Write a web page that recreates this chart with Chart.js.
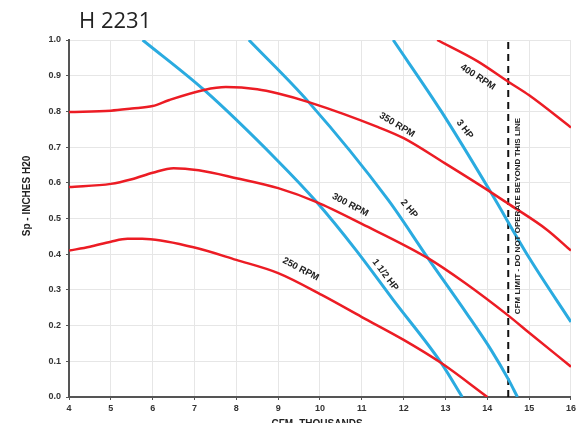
<!DOCTYPE html>
<html>
<head>
<meta charset="utf-8">
<script src="https://cdn.jsdelivr.net/npm/chart.js@4.4.1/dist/chart.umd.min.js"></script>
<style>
  body { margin: 0; background: #fff; }
  #wrap { width: 579px; height: 423px; position: relative; }
</style>
</head>
<body>
<div id="wrap"><canvas id="fanChart"></canvas></div>
<script>
// fan curves (x = CFM thousands, y = Sp inches H2O)
const rpm250X = [4, 4.5, 5, 5.4, 5.75, 6.95, 8, 9, 10.04, 11, 12, 12.9, 14];
const rpm250Y = [0.41, 0.421, 0.435, 0.443, 0.443, 0.42, 0.384, 0.347, 0.286, 0.224, 0.16, 0.095, 0];

const rpm300X = [4, 5, 5.5, 6, 6.5, 7.1, 8, 9, 9.92, 11, 12.58, 13.46, 14.48, 15, 16];
const rpm300Y = [0.588, 0.597, 0.61, 0.628, 0.641, 0.635, 0.613, 0.585, 0.546, 0.485, 0.389, 0.32, 0.23, 0.18, 0.085];

const rpm350X = [4, 5, 5.5, 6, 6.4, 7.23, 7.75, 8.5, 9, 9.73, 11.39, 12, 12.98, 14.08, 14.48, 15.43, 16];
const rpm350Y = [0.798, 0.802, 0.808, 0.815, 0.832, 0.86, 0.868, 0.862, 0.85, 0.826, 0.756, 0.725, 0.655, 0.574, 0.543, 0.468, 0.41];

const rpm400X = [12.8, 13.77, 14.5, 15, 16];
const rpm400Y = [1.0, 0.94, 0.883, 0.845, 0.755];

const hp15X = [5.76, 7.23, 8.97, 9.92, 10.87, 11.75, 12.9, 13.4];
const hp15Y = [1.0, 0.86, 0.664, 0.546, 0.41, 0.272, 0.095, 0];

const hp2X = [8.3, 9.73, 11.63, 12.58, 13.5, 14.1, 14.5, 14.72];
const hp2Y = [1.0, 0.826, 0.552, 0.389, 0.235, 0.13, 0.05, 0];

const hp3X = [11.75, 12.9, 14.08, 15, 16];
const hp3Y = [1.0, 0.8, 0.574, 0.39, 0.21];

const limitX = [14.5, 14.5];
const limitY = [0, 1];

const xTicks = [4, 5, 6, 7, 8, 9, 10, 11, 12, 13, 14, 15, 16];
const yTicks = ['0.0', '0.1', '0.2', '0.3', '0.4', '0.5', '0.6', '0.7', '0.8', '0.9', '1.0'];

const RED = '#ec1c24';
const BLUE = '#2aabe0';

function pts(xs, ys) {
  return xs.map((x, i) => ({ x: x, y: ys[i] }));
}

function curve(xs, ys, color, width) {
  return {
    data: pts(xs, ys),
    borderColor: color,
    borderWidth: width,
    pointRadius: 0,
    fill: false,
    cubicInterpolationMode: 'monotone'
  };
}

// labels along the curves, anchored in data units
const curveLabels = [
  { text: '400 RPM', x: 13.77, y: 0.896, angle: 33 },
  { text: '350 RPM', x: 11.84, y: 0.762, angle: 31 },
  { text: '3 HP', x: 13.46, y: 0.75, angle: 53 },
  { text: '300 RPM', x: 10.72, y: 0.538, angle: 28 },
  { text: '2 HP', x: 12.13, y: 0.527, angle: 50 },
  { text: '250 RPM', x: 9.54, y: 0.358, angle: 28 },
  { text: '1 1/2 HP', x: 11.56, y: 0.342, angle: 53 }
];

const textPlugin = {
  id: 'texts',
  afterDraw(chart) {
    const ctx = chart.ctx;
    const xs = chart.scales.x, ys = chart.scales.y;
    const area = chart.chartArea;
    ctx.save();
    ctx.fillStyle = '#222';

    // heading
    ctx.font = '22px "Open Sans"';
    ctx.textAlign = 'left';
    ctx.textBaseline = 'alphabetic';
    ctx.fillText('H 2231', 79, 28);

    // curve labels
    ctx.font = 'bold 9.5px "Liberation Sans"';
    ctx.textAlign = 'center';
    ctx.textBaseline = 'middle';
    curveLabels.forEach(l => {
      ctx.save();
      ctx.translate(xs.getPixelForValue(l.x), ys.getPixelForValue(l.y));
      ctx.rotate(l.angle * Math.PI / 180);
      ctx.fillText(l.text, 0, 0);
      ctx.restore();
    });

    // limit line note
    ctx.save();
    ctx.font = 'bold 8px "Liberation Sans"';
    ctx.translate(xs.getPixelForValue(14.5) + 10, ys.getPixelForValue(0.507));
    ctx.rotate(-Math.PI / 2);
    ctx.fillText('CFM LIMIT - DO NOT OPERATE BEYOND THIS LINE', 0, 0);
    ctx.restore();

    // y axis title
    ctx.save();
    ctx.font = 'bold 10px "Liberation Sans"';
    ctx.translate(27, 196);
    ctx.rotate(-Math.PI / 2);
    ctx.fillText('Sp - INCHES H20', 0, 0);
    ctx.restore();

    // x axis title (cut by the bottom edge)
    ctx.font = 'bold 10px "Liberation Sans"';
    ctx.textBaseline = 'top';
    ctx.fillText('CFM- THOUSANDS', (area.left + area.right) / 2 - 3, 419);
    ctx.restore();
  }
};

const tickFont = { family: '"Liberation Sans"', size: 9, weight: 'bold' };

new Chart(document.getElementById('fanChart'), {
  type: 'line',
  data: {
    datasets: [
      curve(rpm250X, rpm250Y, RED, 2.5),
      curve(rpm300X, rpm300Y, RED, 2.5),
      curve(rpm350X, rpm350Y, RED, 2.5),
      curve(rpm400X, rpm400Y, RED, 2.5),
      curve(hp15X, hp15Y, BLUE, 3),
      curve(hp2X, hp2Y, BLUE, 3),
      curve(hp3X, hp3Y, BLUE, 3),
      {
        data: pts(limitX, limitY),
        borderColor: '#111',
        borderWidth: 2,
        borderDash: [7, 5],
        pointRadius: 0,
        fill: false
      }
    ]
  },
  options: {
    responsive: true,
    maintainAspectRatio: false,
    animation: false,
    layout: { padding: { top: 40, right: 5, left: 0, bottom: 0 } },
    plugins: {
      legend: { display: false },
      tooltip: { enabled: false }
    },
    scales: {
      x: {
        type: 'linear',
        min: 4,
        max: 16,
        afterFit(scale) { scale.height = 26; },
        afterBuildTicks(scale) { scale.ticks = xTicks.map(v => ({ value: v })); },
        ticks: {
          color: '#333',
          font: tickFont,
          padding: 3,
          callback: v => String(v)
        },
        grid: { color: '#e6e6e6', tickColor: '#555', tickLength: 3 },
        border: { color: '#555', width: 2 }
      },
      y: {
        type: 'linear',
        min: 0,
        max: 1,
        afterFit(scale) { scale.width = 69; },
        afterBuildTicks(scale) { scale.ticks = yTicks.map(v => ({ value: parseFloat(v) })); },
        ticks: {
          color: '#333',
          font: tickFont,
          padding: 5,
          callback: (v, i) => yTicks[i]
        },
        grid: { color: '#e6e6e6', tickColor: '#555', tickLength: 3 },
        border: { color: '#555', width: 2 }
      }
    }
  },
  plugins: [textPlugin]
});
</script>
</body>
</html>
